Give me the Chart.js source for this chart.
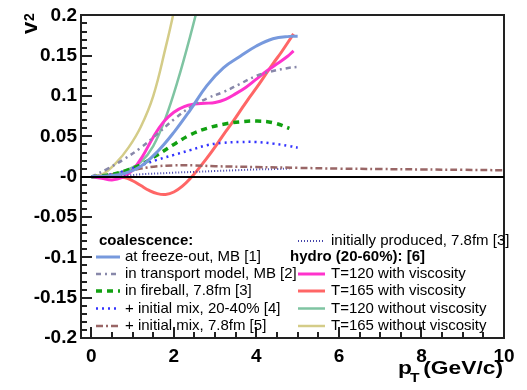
<!DOCTYPE html>
<html>
<head>
<meta charset="utf-8">
<script src="https://cdn.jsdelivr.net/npm/chart.js@4"></script>
<style>
  html, body { margin: 0; padding: 0; background: #fff; }
  canvas { display: block; }
</style>
</head>
<body>
<canvas id="v2Chart" width="527" height="390"></canvas>
<script>
// pT axis ticks and v2 axis ticks
const X_TICKS = [0, 2, 4, 6, 8, 10];
const Y_TICKS = [-0.2, -0.15, -0.1, -0.05, 0, 0.05, 0.1, 0.15, 0.2];

// coalescence curves
const freezeOutX = [0, 0.4, 0.8, 1.2, 1.6, 2.0, 2.4, 2.8, 3.2, 3.6, 4.0, 4.4, 4.8, 5.0];
const freezeOutY = [0, 0.001, 0.004, 0.013, 0.031, 0.055, 0.083, 0.113, 0.135, 0.149, 0.162, 0.171, 0.174, 0.174];

const transportX = [0, 0.4, 0.8, 1.2, 1.6, 2.0, 2.4, 2.8, 3.2, 3.6, 4.0, 4.4, 4.8, 5.0];
const transportY = [0, 0.010, 0.022, 0.036, 0.053, 0.071, 0.086, 0.097, 0.105, 0.115, 0.125, 0.131, 0.135, 0.136];

const fireballX = [0, 0.4, 0.8, 1.2, 1.6, 2.0, 2.4, 2.8, 3.2, 3.6, 4.0, 4.4, 4.8];
const fireballY = [0, 0.002, 0.007, 0.015, 0.027, 0.040, 0.052, 0.060, 0.065, 0.068, 0.069, 0.067, 0.060];

const mix2040X = [0, 0.4, 0.8, 1.2, 1.6, 2.0, 2.4, 2.8, 3.2, 3.6, 4.0, 4.4, 4.8, 5.0];
const mix2040Y = [0, 0.002, 0.007, 0.014, 0.021, 0.027, 0.033, 0.039, 0.042, 0.043, 0.043, 0.041, 0.038, 0.036];

const mix78X = [0, 0.4, 0.8, 1.2, 1.6, 2.0, 2.5, 3.0, 4.0, 5.0, 6.0, 7.0, 8.0, 9.0, 10.0];
const mix78Y = [0, 0.002, 0.006, 0.010, 0.013, 0.014, 0.014, 0.013, 0.012, 0.011, 0.010, 0.0095, 0.009, 0.0085, 0.008];

const initialX = [0, 0.4, 0.8, 1.2, 1.6, 2.0, 2.5, 3.0, 3.5, 4.0, 4.5, 4.8];
const initialY = [0, 0.000, 0.001, 0.003, 0.004, 0.005, 0.006, 0.007, 0.008, 0.009, 0.0095, 0.010];

// hydro (20-60%)
const hydro120vX = [0, 0.25, 0.5, 0.75, 1.0, 1.25, 1.5, 1.75, 2.0, 2.25, 2.5, 2.75, 3.0, 3.25, 3.5, 3.75, 4.0, 4.25, 4.5, 4.75, 4.9];
const hydro120vY = [0, -0.002, -0.004, -0.001, 0.008, 0.026, 0.049, 0.068, 0.080, 0.087, 0.090, 0.091, 0.092, 0.096, 0.103, 0.111, 0.121, 0.131, 0.140, 0.149, 0.156];

const hydro165vX = [0, 0.4, 0.8, 1.0, 1.2, 1.4, 1.6, 1.8, 2.0, 2.2, 2.4, 2.6, 2.8, 3.0, 3.2, 3.4, 3.6, 3.8, 4.0, 4.2, 4.4, 4.6, 4.9];
const hydro165vY = [0, 0.0, -0.001, -0.005, -0.011, -0.017, -0.021, -0.022, -0.019, -0.012, -0.002, 0.010, 0.023, 0.037, 0.052, 0.066, 0.081, 0.096, 0.110, 0.125, 0.140, 0.154, 0.177];

const hydro120X = [0, 0.3, 0.6, 0.9, 1.2, 1.5, 1.8, 2.1, 2.4, 2.7];
const hydro120Y = [0, 0.001, 0.004, 0.009, 0.018, 0.038, 0.073, 0.120, 0.175, 0.235];

const hydro165X = [0, 0.3, 0.6, 0.9, 1.2, 1.5, 1.8, 2.0, 2.2];
const hydro165Y = [0, 0.004, 0.017, 0.036, 0.062, 0.100, 0.160, 0.205, 0.260];

function pts(xs, ys) {
  return xs.map((x, i) => ({ x, y: ys[i] }));
}

const series = [
  { label: "at freeze-out, MB [1]", x: freezeOutX, y: freezeOutY, color: "#7799dd", width: 3, dash: [] },
  { label: "in transport model, MB [2]", x: transportX, y: transportY, color: "#8888aa", width: 2.5, dash: [5, 4, 2, 4] },
  { label: "in fireball, 7.8fm [3]", x: fireballX, y: fireballY, color: "#11a011", width: 3.5, dash: [6, 5] },
  { label: "+ initial mix, 20-40% [4]", x: mix2040X, y: mix2040Y, color: "#3333ff", width: 2.5, dash: [2, 4] },
  { label: "+ initial mix, 7.8fm [5]", x: mix78X, y: mix78Y, color: "#996666", width: 2.5, dash: [7, 3, 2, 3] },
  { label: "initially produced, 7.8fm [3]", x: initialX, y: initialY, color: "#4444aa", width: 2, dash: [1, 2] },
  { label: "T=120 with viscosity", x: hydro120vX, y: hydro120vY, color: "#ff33cc", width: 3, dash: [] },
  { label: "T=165 with viscosity", x: hydro165vX, y: hydro165vY, color: "#ff6666", width: 3, dash: [] },
  { label: "T=120 without viscosity", x: hydro120X, y: hydro120Y, color: "#7fc4a2", width: 2.5, dash: [] },
  { label: "T=165 without viscosity", x: hydro165X, y: hydro165Y, color: "#d4cc88", width: 2.5, dash: [] }
];

// ROOT-style frame with inner ticks, plus the zero line
const rootFrame = {
  id: "rootFrame",
  afterDraw(chart) {
    const { ctx, chartArea: a, scales } = chart;
    const xs = scales.x, ys = scales.y;
    const L = Math.round(a.left), R = Math.round(a.right);
    const T = Math.round(a.top), B = Math.round(a.bottom);
    ctx.save();
    ctx.fillStyle = "#222";
    ctx.fillRect(L - 1, T - 1, R - L + 2, 2);
    ctx.fillRect(L - 1, B - 1, R - L + 2, 2);
    ctx.fillRect(L - 1, T - 1, 2, B - T + 2);
    ctx.fillRect(R - 1, T - 1, 2, B - T + 2);
    for (let i = -20; i <= 20; i++) {
      const py = Math.round(ys.getPixelForValue(i / 100));
      const len = i % 5 === 0 ? 11 : 6;
      ctx.fillRect(L, py - 1, len, 2);
    }
    for (let i = 0; i <= 20; i++) {
      const px = Math.round(xs.getPixelForValue(i / 2));
      const len = i % 4 === 0 ? 11 : 6;
      ctx.fillRect(px - 1, B - len, 2, len);
    }
    ctx.fillStyle = "#000";
    const y0 = Math.round(ys.getPixelForValue(0));
    ctx.fillRect(L, y0 - 1, R - L, 2);
    ctx.restore();
  }
};

// axis titles with subscripts and the two-column legend
const rootText = {
  id: "rootText",
  afterDraw(chart) {
    const { ctx } = chart;
    ctx.save();
    ctx.setLineDash([]);
    ctx.fillStyle = "#000";
    ctx.textBaseline = "alphabetic";
    ctx.textAlign = "left";

    ctx.save();
    ctx.translate(398, 374);
    ctx.scale(1.2, 1);
    ctx.font = "bold 19px 'Liberation Sans', Arial, sans-serif";
    ctx.fillText("p", 0, 0);
    ctx.font = "bold 13px 'Liberation Sans', Arial, sans-serif";
    ctx.fillText("T", 10, 8);
    ctx.font = "bold 19px 'Liberation Sans', Arial, sans-serif";
    ctx.fillText("(GeV/c)", 21, 0);
    ctx.restore();

    ctx.save();
    ctx.translate(37, 34);
    ctx.rotate(-Math.PI / 2);
    ctx.font = "bold 22px 'Liberation Sans', Arial, sans-serif";
    ctx.fillText("v", 0, 0);
    ctx.font = "bold 14px 'Liberation Sans', Arial, sans-serif";
    ctx.fillText("2", 13, -3);
    ctx.restore();

    const textFont = "15px 'Liberation Sans', Arial, sans-serif";
    const boldFont = "bold 15px 'Liberation Sans', Arial, sans-serif";
    ctx.textBaseline = "middle";
    ctx.font = boldFont;
    ctx.fillText("coalescence:", 99, 241);
    ctx.fillText("hydro (20-60%): [6]", 290, 257);

    const leftRows = [257, 274, 291, 308.5, 326];
    const rightRows = [241, 274, 291, 308.5, 326];
    series.forEach((s, i) => {
      const col = i < 5 ? 0 : 1;
      const row = i % 5;
      const yy = col === 0 ? leftRows[row] : rightRows[row];
      const x1 = col === 0 ? 96 : 298;
      const x2 = col === 0 ? 120 : 325;
      const tx = col === 0 ? 125 : 331;
      ctx.strokeStyle = s.color;
      ctx.lineWidth = s.width;
      ctx.setLineDash(s.dash);
      ctx.beginPath();
      ctx.moveTo(x1, yy);
      ctx.lineTo(x2, yy);
      ctx.stroke();
      ctx.setLineDash([]);
      ctx.font = textFont;
      ctx.fillText(s.label, tx, yy);
    });
    ctx.restore();
  }
};

const tickFont = { family: "'Liberation Sans', Arial, sans-serif", size: 19, weight: "bold" };

new Chart(document.getElementById("v2Chart"), {
  type: "line",
  data: {
    datasets: series.map((s) => ({
      label: s.label,
      data: pts(s.x, s.y),
      borderColor: s.color,
      backgroundColor: s.color,
      borderWidth: s.width,
      borderDash: s.dash,
      pointRadius: 0,
      tension: 0.4,
      fill: false
    }))
  },
  options: {
    responsive: false,
    animation: false,
    devicePixelRatio: 1,
    layout: { padding: { left: 0, top: 13, right: 23, bottom: 0 } },
    plugins: {
      legend: { display: false },
      tooltip: { enabled: false }
    },
    scales: {
      x: {
        type: "linear",
        min: -0.25,
        max: 10,
        afterBuildTicks: (scale) => { scale.ticks = X_TICKS.map((v) => ({ value: v })); },
        afterFit: (scale) => { scale.height = 52; },
        grid: { display: false, drawTicks: false },
        border: { display: false },
        ticks: { color: "#000", font: tickFont, padding: 7, maxRotation: 0, autoSkip: false }
      },
      y: {
        type: "linear",
        min: -0.2,
        max: 0.2,
        afterBuildTicks: (scale) => { scale.ticks = Y_TICKS.map((v) => ({ value: v })); },
        afterFit: (scale) => { scale.width = 81; },
        grid: { display: false, drawTicks: false },
        border: { display: false },
        ticks: {
          color: "#000",
          font: tickFont,
          padding: 4,
          autoSkip: false,
          callback: (v) => (Math.abs(v) < 1e-9 ? "-0" : String(+v.toFixed(2)))
        }
      }
    }
  },
  plugins: [rootFrame, rootText]
});
</script>
</body>
</html>
